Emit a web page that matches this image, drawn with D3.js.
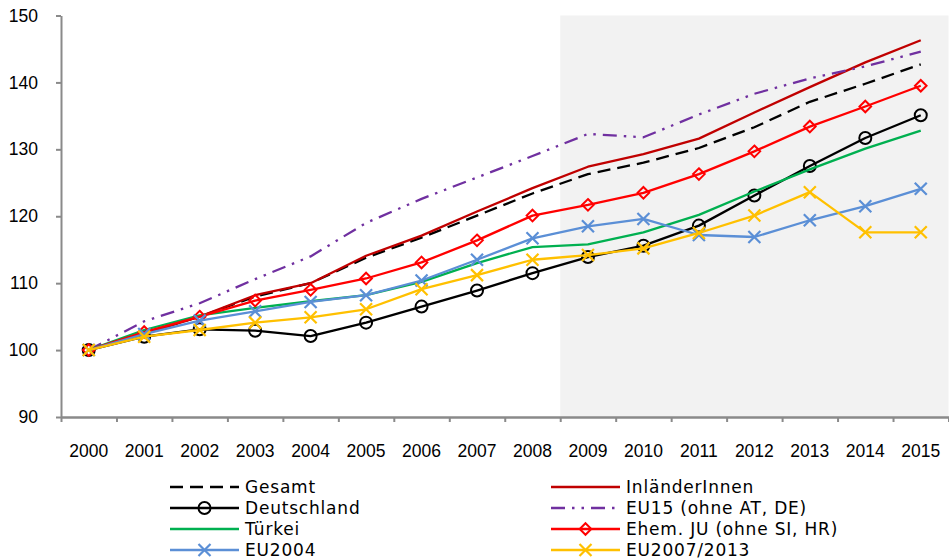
<!DOCTYPE html>
<html>
<head>
<meta charset="utf-8">
<script src="https://cdn.jsdelivr.net/npm/d3@7"></script>
<style>
  html, body { margin: 0; padding: 0; background: #fff; }
  svg { display: block; }
  .tick text { font-family: "Century Gothic", "Liberation Sans", sans-serif; font-size: 17.5px; fill: #000; }
  .legend text { font-family: "Century Gothic", "DejaVu Sans", sans-serif; font-size: 17px; fill: #000; letter-spacing: 0.8px; }
</style>
</head>
<body>
<svg id="chart" width="949" height="560"></svg>
<script>
// Index values (2000 = 100)
const years = ["2000","2001","2002","2003","2004","2005","2006","2007","2008","2009","2010","2011","2012","2013","2014","2015"];
const yTicks = [90, 100, 110, 120, 130, 140, 150];
const shadeFrom = "2009";

const gesamt      = [100, 102.5, 105.0, 108.0, 110.0, 113.8, 116.8, 120.1, 123.4, 126.3, 128.0, 130.2, 133.3, 137.1, 139.8, 142.7];
const inlaender   = [100, 102.4, 105.0, 108.2, 110.0, 114.1, 117.1, 120.7, 124.2, 127.4, 129.3, 131.6, 135.5, 139.3, 143.0, 146.3];
const eu15        = [100, 104.3, 107.0, 110.6, 114.0, 119.0, 122.6, 125.8, 129.0, 132.3, 131.8, 135.2, 138.3, 140.6, 142.4, 144.6];
const deutschland = [100, 102.0, 103.1, 102.9, 102.1, 104.1, 106.5, 108.9, 111.5, 113.9, 115.6, 118.6, 123.1, 127.5, 131.7, 135.1];
const tuerkei     = [100, 103.0, 105.2, 106.3, 107.3, 108.2, 110.2, 113.0, 115.4, 115.8, 117.6, 120.2, 123.7, 127.0, 130.1, 132.8];
const ehemJU      = [100, 102.7, 105.0, 107.4, 109.0, 110.7, 113.1, 116.4, 120.1, 121.7, 123.5, 126.3, 129.7, 133.4, 136.4, 139.5];
const eu2004      = [100, 102.4, 104.4, 105.8, 107.2, 108.2, 110.4, 113.5, 116.7, 118.5, 119.6, 117.2, 116.9, 119.4, 121.5, 124.1];
const eu2007      = [100, 102.0, 103.0, 104.1, 104.9, 106.1, 109.1, 111.2, 113.5, 114.2, 115.2, 117.5, 120.1, 123.6, 117.6, 117.6];

// Series in drawing order, with legend slot (column, row)
const series = [
  { name: "Gesamt",                 values: gesamt,      color: "#000000", dash: "13,7",            marker: null,      col: 0, row: 0 },
  { name: "InländerInnen",          values: inlaender,   color: "#c00000", dash: null,              marker: null,      col: 1, row: 0 },
  { name: "Deutschland",            values: deutschland, color: "#000000", dash: null,              marker: "circle",  col: 0, row: 1 },
  { name: "EU15 (ohne AT, DE)",     values: eu15,        color: "#7030a0", dash: "14,7,2.5,7,2.5,7", marker: null,     col: 1, row: 1 },
  { name: "Türkei",                 values: tuerkei,     color: "#00b050", dash: null,              marker: null,      col: 0, row: 2 },
  { name: "Ehem. JU (ohne SI, HR)", values: ehemJU,      color: "#ff0000", dash: null,              marker: "diamond", col: 1, row: 2 },
  { name: "EU2004",                 values: eu2004,      color: "#5b8fd6", dash: null,              marker: "x",       col: 0, row: 3 },
  { name: "EU2007/2013",            values: eu2007,      color: "#ffc000", dash: null,              marker: "x",       col: 1, row: 3 }
];

const svg = d3.select("#chart");
const plot = { left: 61, right: 948.5, top: 15.5, bottom: 417 };

const x = d3.scaleBand().domain(years).range([plot.left, plot.right]).padding(0);
const cx = d => x(d) + x.bandwidth() / 2;
const y = d3.scaleLinear().domain([90, 150]).range([plot.bottom, plot.top]);

// Shaded period
svg.append("rect")
  .attr("x", x(shadeFrom))
  .attr("y", y(150))
  .attr("width", plot.right - x(shadeFrom))
  .attr("height", y(90) - y(150))
  .attr("fill", "#f2f2f2");

// Axes
const axisColor = "#8a8a8a";
const yAxis = svg.append("g")
  .attr("transform", `translate(${plot.left},0)`)
  .call(d3.axisLeft(y).tickValues(yTicks).tickSize(5).tickPadding(18).tickSizeOuter(0));
yAxis.select(".domain").attr("stroke", axisColor).attr("stroke-width", 2);
yAxis.selectAll(".tick line").attr("stroke", axisColor).attr("stroke-width", 2);

// Category boundary ticks
const edges = d3.scaleLinear().domain([0, years.length]).range([plot.left, plot.right]);
const xTickAxis = svg.append("g")
  .attr("transform", `translate(0,${plot.bottom})`)
  .call(d3.axisBottom(edges).tickValues(d3.range(years.length + 1)).tickFormat("").tickSize(5).tickSizeOuter(0));
xTickAxis.select(".domain").attr("stroke", axisColor).attr("stroke-width", 2.5);
xTickAxis.selectAll(".tick line").attr("stroke", axisColor).attr("stroke-width", 2);

// Year labels
const xAxis = svg.append("g")
  .attr("transform", `translate(0,${plot.bottom})`)
  .call(d3.axisBottom(x).tickSize(0).tickPadding(28));
xAxis.select(".domain").remove();

// Marker shapes
function drawMarker(g, type, color) {
  if (type === "circle") {
    g.append("circle").attr("r", 6).attr("fill", "none").attr("stroke", color).attr("stroke-width", 2);
  } else if (type === "diamond") {
    g.append("path").attr("d", "M0,-5.8L5.8,0L0,5.8L-5.8,0Z").attr("fill", "none").attr("stroke", color).attr("stroke-width", 2);
  } else if (type === "x") {
    g.append("path").attr("d", "M-6,-6L6,6M-6,6L6,-6").attr("fill", "none").attr("stroke", color).attr("stroke-width", 2.2);
  }
}

const line = d3.line().x((d, i) => cx(years[i])).y(d => y(d));

series.forEach(s => {
  const g = svg.append("g").attr("class", "series");
  g.append("path")
    .attr("d", line(s.values))
    .attr("fill", "none")
    .attr("stroke", s.color)
    .attr("stroke-width", 2.3)
    .attr("stroke-linejoin", "round")
    .attr("stroke-dasharray", s.dash);
  if (s.marker) {
    s.values.forEach((v, i) => {
      const m = g.append("g").attr("transform", `translate(${cx(years[i])},${y(v)})`);
      drawMarker(m, s.marker, s.color);
    });
  }
});

// Legend
const legend = svg.append("g").attr("class", "legend");
const colX = [170, 551];
const rowY = [487, 508, 529, 550];
const sampleLen = 69;
series.forEach(s => {
  const g = legend.append("g").attr("transform", `translate(${colX[s.col]},${rowY[s.row]})`);
  g.append("line")
    .attr("x1", 0).attr("x2", sampleLen).attr("y1", 0).attr("y2", 0)
    .attr("stroke", s.color).attr("stroke-width", 2.3)
    .attr("stroke-dasharray", s.dash);
  if (s.marker) {
    const m = g.append("g").attr("transform", `translate(${sampleLen / 2},0)`);
    drawMarker(m, s.marker, s.color);
  }
  g.append("text")
    .attr("x", sampleLen + 6)
    .attr("y", 0)
    .attr("dy", "0.36em")
    .text(s.name);
});
</script>
</body>
</html>
